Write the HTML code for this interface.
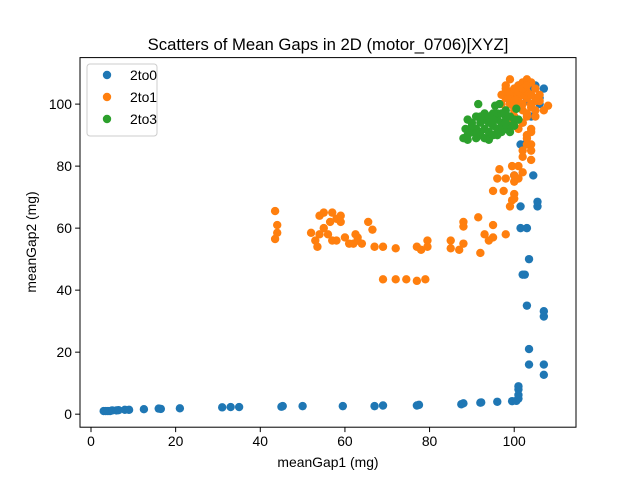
<!DOCTYPE html>
<html><head><meta charset="utf-8"><style>
body{margin:0;background:#fff}
svg text{font-family:"Liberation Sans","DejaVu Sans",sans-serif;fill:#000}
</style></head><body>
<svg id="chart" width="640" height="480" xmlns="http://www.w3.org/2000/svg">
<rect width="640" height="480" fill="#fff"/>
<text x="328" y="50" font-size="16.7" text-anchor="middle">Scatters of Mean Gaps in 2D (motor_0706)[XYZ]</text>
<g id="marks"></g>
<g id="axes"></g>
<text x="328" y="467" font-size="13.9" text-anchor="middle">meanGap1 (mg)</text>
<text x="36" y="242" font-size="13.9" text-anchor="middle" transform="rotate(-90 36 242)">meanGap2 (mg)</text>
<g>
<rect x="87" y="64" width="70" height="72" rx="3" fill="#fff" fill-opacity="0.8" stroke="#ccc"/>
<circle cx="107" cy="75" r="4.2" fill="#1f77b4"/><text x="130" y="80" font-size="13.9">2to0</text>
<circle cx="107" cy="97" r="4.2" fill="#ff7f0e"/><text x="130" y="102" font-size="13.9">2to1</text>
<circle cx="107" cy="119" r="4.2" fill="#2ca02c"/><text x="130" y="124" font-size="13.9">2to3</text>
</g>
</svg>
<script>
const xTicks=[0,20,40,60,80,100];
const yTicks=[0,20,40,60,80,100];
const blueX=[3,3.5,4,4.5,5,6,6.5,8,9,12.5,16,16.5,21,31,33,35,45,45.3,50,59.5,67,69,77,77.5,87.5,88,92,92.2,96,99.5,100.5,101,101,101,101,103.5,103.5,107,107,107,107,103,103.5,102.5,102,101.5,103,101.5,105.5,105.5,104.5,100,101.5,102.5,100,101,104,105,107,106,103,99,102,104,106];
const blueY=[1,1,1,1,1.2,1.2,1.3,1.4,1.4,1.6,1.8,1.7,1.9,2.2,2.3,2.3,2.4,2.6,2.6,2.6,2.6,2.8,2.8,3,3.2,3.5,3.7,3.8,4,4.2,4.3,5,6.2,8,9,16,21,12.7,16,31.5,33.2,35,50,45,45,60,60,67,67,68.5,77,77,87,87,99,106,105,106,105,102,101,101,103,96,100];
const orangeX=[43.5,44,43.5,44,52,53,53.5,54,54,55,55,56,56.5,57,57,58,58,59,59,60,61,62,62.5,63,63,64,65.5,66.5,67,69,69,72,72,74.5,77,77,78,79,79.5,79.5,85,85,87,88,88,88,91.5,92,93,94,95,95,95,96,96.5,97.5,98,98,99,99.5,99.5,100,100,100,100,101,101,102,102,102,103,104,104,104,104,105,105,106,108,107,103,102,101,100,99,98,99,100,101,102,103,104,105,104,102,101,100,103,101,102,104,106,103,105,100,97,99,98,98,99,100,101,102,103,104,105,97,98,99,100,101,102,103,104,102,103,104,103,104];
const orangeY=[65.5,61,56.5,58.5,58.5,56,54,58,64,65,60,58,62,56,65,63,56,62,64,57,55,55,58,56,57,55,62,59.5,54,54,43.5,53.5,43.5,43.5,54,43,53,43.5,56,54,56,53.5,53,55,62,60.5,63.5,52,58,56,57,61,72,76,79,72,76,58,67,69,80,77,75,71,69.5,80,76,78,83,85,87,87,82,85,100,98,96,101,99.5,98,96,94,92,96,94,102,100,104,106,107,108,107,105,103,100,101,98,102,102,103,100,103,104,101,102,103,108,105,104,102,101,99,98,97,99,102,100,106,104,105,104,105,106,103,94,90,92,89,91];
const greenX=[91.5,95.5,96.5,98,100.5,89,90,91,92,93,94,95,96,97,98,99,100,101,88.5,89,90,91,92,93,94,95,96,97,98,99,100,88,89,91,92,93,94,95,96,97,99,93,94,90,98,96,92,97,95,91];
const greenY=[100,99.5,100,98,98.5,95,94,96,94,95,96,97,95,94,96,96,95,95,92,90,91,92,91,92,91,93,92,93,92,93,93,89,88.5,89,90,89,88.5,90,90,91,91,97,94,93,94,97,96,97,95,90.5];
const L=80,R=576,T=57.6,B=427.2;
const xMin=-2.6,xMax=114.6,yMin=-4.2,yMax=115;
function sx(v){return L+(v-xMin)/(xMax-xMin)*(R-L);}
function sy(v){return B-(v-yMin)/(yMax-yMin)*(B-T);}
const NS="http://www.w3.org/2000/svg";
const marks=document.getElementById('marks');
function series(xs,ys,color,name){
  const g=document.createElementNS(NS,'g');
  
  
  for(let i=0;i<xs.length;i++){
    const c=document.createElementNS(NS,'circle');
    c.setAttribute('cx',sx(xs[i]));c.setAttribute('cy',sy(ys[i]));
    c.setAttribute('r',4.2);c.setAttribute('fill',color);
    
    
    g.appendChild(c);
  }
  marks.appendChild(g);
}
series(blueX,blueY,'#1f77b4','series-2to0');
series(orangeX,orangeY,'#ff7f0e','series-2to1');
series(greenX,greenY,'#2ca02c','series-2to3');
const ax=document.getElementById('axes');
let h=`<rect x="${L}" y="${T}" width="${R-L}" height="${B-T}" fill="none" stroke="#000" stroke-width="1"/>`;
xTicks.forEach(t=>{const x=sx(t);h+=`<line x1="${x}" y1="${B}" x2="${x}" y2="${B+4.9}" stroke="#000"/><text x="${x}" y="${B+19}" font-size="13.9" text-anchor="middle">${t}</text>`;});
yTicks.forEach(t=>{const y=sy(t);h+=`<line x1="${L-4.9}" y1="${y}" x2="${L}" y2="${y}" stroke="#000"/><text x="${L-8}" y="${y+5}" font-size="13.9" text-anchor="end">${t}</text>`;});
ax.innerHTML=h;


</script>
</body></html>
